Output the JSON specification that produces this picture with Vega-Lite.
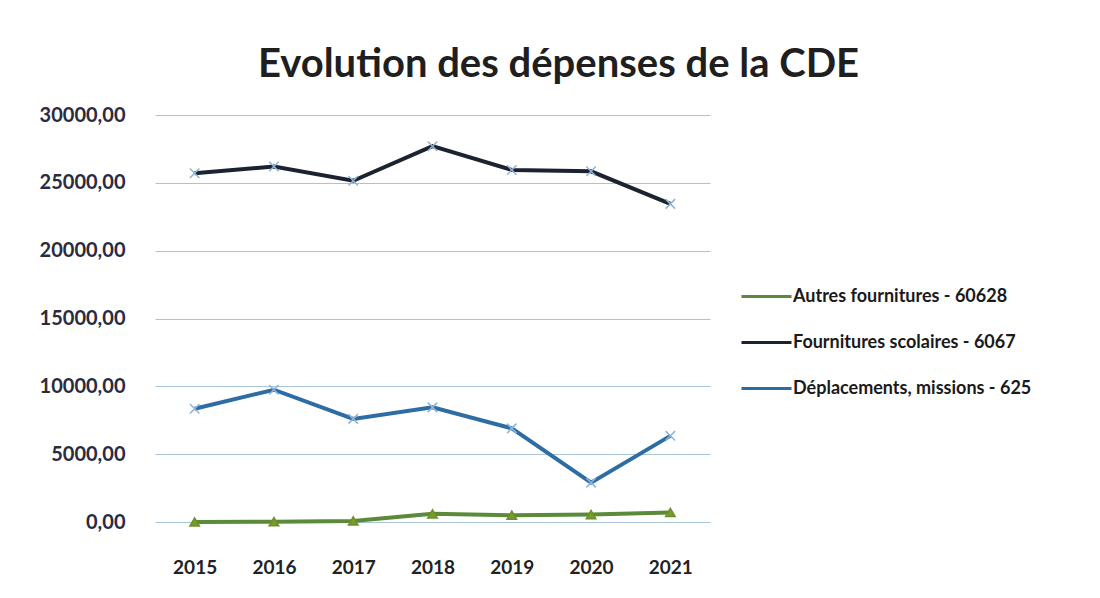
{
  "$schema": "https://vega.github.io/schema/vega-lite/v6.json",
  "width": 555,
  "height": 407,
  "autosize": {"type": "none"},
  "padding": {"left": 155, "top": 115, "right": 390, "bottom": 76},
  "background": "white",
  "config": {"view": {"stroke": null}, "font": "Lato"},
  "title": {
    "text": "Evolution des dépenses de la CDE",
    "fontSize": 40,
    "fontWeight": "bold",
    "font": "Lato",
    "color": "#1f1f1f",
    "anchor": "middle",
    "dx": 126,
    "offset": 20
  },
  "data": {
    "values": [
      {"annee": "2015", "serie": "Autres fournitures - 60628", "montant": 0},
      {"annee": "2016", "serie": "Autres fournitures - 60628", "montant": 20},
      {"annee": "2017", "serie": "Autres fournitures - 60628", "montant": 80},
      {"annee": "2018", "serie": "Autres fournitures - 60628", "montant": 600},
      {"annee": "2019", "serie": "Autres fournitures - 60628", "montant": 500},
      {"annee": "2020", "serie": "Autres fournitures - 60628", "montant": 550},
      {"annee": "2021", "serie": "Autres fournitures - 60628", "montant": 700},
      {"annee": "2015", "serie": "Fournitures scolaires - 6067", "montant": 25700},
      {"annee": "2016", "serie": "Fournitures scolaires - 6067", "montant": 26200},
      {"annee": "2017", "serie": "Fournitures scolaires - 6067", "montant": 25150},
      {"annee": "2018", "serie": "Fournitures scolaires - 6067", "montant": 27700},
      {"annee": "2019", "serie": "Fournitures scolaires - 6067", "montant": 25950},
      {"annee": "2020", "serie": "Fournitures scolaires - 6067", "montant": 25850},
      {"annee": "2021", "serie": "Fournitures scolaires - 6067", "montant": 23450},
      {"annee": "2015", "serie": "Déplacements, missions - 625", "montant": 8350},
      {"annee": "2016", "serie": "Déplacements, missions - 625", "montant": 9750},
      {"annee": "2017", "serie": "Déplacements, missions - 625", "montant": 7600},
      {"annee": "2018", "serie": "Déplacements, missions - 625", "montant": 8450},
      {"annee": "2019", "serie": "Déplacements, missions - 625", "montant": 6900},
      {"annee": "2020", "serie": "Déplacements, missions - 625", "montant": 2900},
      {"annee": "2021", "serie": "Déplacements, missions - 625", "montant": 6350}
    ]
  },
  "encoding": {
    "x": {
      "field": "annee",
      "type": "ordinal",
      "scale": {"type": "point", "padding": 0.5},
      "axis": {
        "title": null,
        "labelAngle": 0,
        "labelFontSize": 19,
        "labelFontWeight": "bold",
        "labelColor": "#222222",
        "labelPadding": 36,
        "domain": false,
        "ticks": false,
        "grid": false
      }
    },
    "y": {
      "field": "montant",
      "type": "quantitative",
      "scale": {"domain": [0, 30000], "nice": false},
      "axis": {
        "title": null,
        "values": [0, 5000, 10000, 15000, 20000, 25000, 30000],
        "labelExpr": "replace(format(datum.value, '.2f'), '.', ',')",
        "labelFontSize": 20,
        "labelFontWeight": "bold",
        "labelColor": "#2c2a3e",
        "labelPadding": 30,
        "domain": false,
        "ticks": false,
        "grid": true,
        "gridColor": "#a9c4d6",
        "gridWidth": 1
      }
    }
  },
  "layer": [
    {
      "mark": {"type": "line", "strokeWidth": 4},
      "encoding": {
        "color": {
          "field": "serie",
          "type": "nominal",
          "scale": {
            "domain": ["Autres fournitures - 60628", "Fournitures scolaires - 6067", "Déplacements, missions - 625"],
            "range": ["#5a8a3a", "#1c2330", "#2e6da4"]
          },
          "legend": {
            "title": null,
            "orient": "none",
            "legendX": 585,
            "legendY": 155,
            "symbolType": "stroke",
            "symbolSize": 2500,
            "symbolStrokeWidth": 3,
            "labelFontSize": 18,
            "labelFontWeight": "bold",
            "labelColor": "#1a1a1a",
            "labelLimit": 0,
            "rowPadding": 10,
            "labelOffset": 0
          }
        }
      }
    },
    {
      "mark": {"type": "point", "size": 90, "opacity": 1, "strokeWidth": 1.5},
      "encoding": {
        "shape": {
          "condition": {"test": "datum.serie === 'Autres fournitures - 60628'", "value": "triangle-up"},
          "value": "M-1,-1L1,1M1,-1L-1,1"
        },
        "stroke": {
          "condition": {"test": "datum.serie === 'Autres fournitures - 60628'", "value": "#6f8f2a"},
          "value": "#8fb4d8"
        },
        "fill": {
          "condition": {"test": "datum.serie === 'Autres fournitures - 60628'", "value": "#7a9a2a"},
          "value": "transparent"
        }
      }
    }
  ]
}
